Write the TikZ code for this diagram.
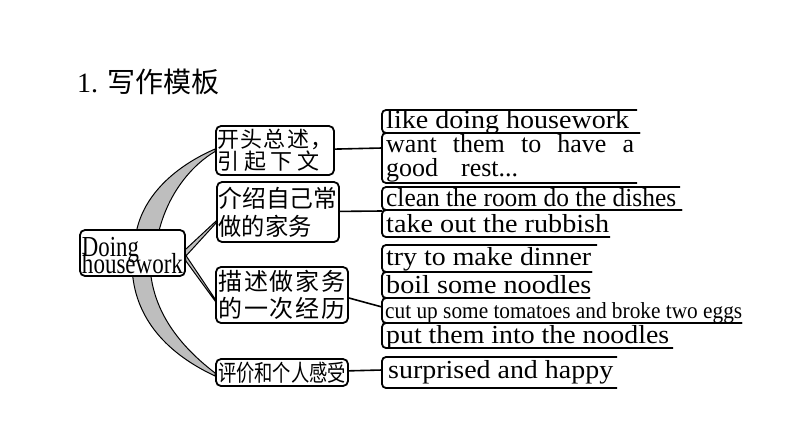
\documentclass[tikz,border=0pt]{standalone}
\usepackage{fontspec}
\setmainfont{Liberation Serif}
\newfontfamily\cjk{Noto Sans CJK SC}
\usetikzlibrary{calc}
\pgfdeclarelayer{background}
\pgfsetlayers{background,main}
\definecolor{crescentgray}{RGB}{190,190,190}
\newcommand\fitw[2]{\resizebox{#1}{\height}{#2}}
\newcommand\spreadbox[2]{\makebox[#1][s]{#2}}
\begin{document}
\begin{tikzpicture}[x=1pt,y=-1pt,
  box/.style={draw, line width=1.8pt, rounded corners=5pt, fill=white, inner sep=1pt, align=left},
  cres/.style={fill=crescentgray, draw=black, line width=1pt},
  brk/.style={draw, line width=1.8pt, rounded corners=4pt},
  link/.style={draw, line width=1.6pt},
  item/.style={anchor=base west, inner sep=0pt, font=\fontsize{26}{26}\selectfont}]
\useasboundingbox (0,0) rectangle (794,447);

% title
\node[anchor=base west, inner sep=0pt, font=\fontsize{28}{28}\selectfont] (title) at (77,92)
  {1.\hspace{9pt}{\cjk\fontsize{28}{28}\selectfont 写作模板}};

% central node
\node[box, minimum width=105pt, minimum height=46pt,
  font={\fontsize{29}{17}\selectfont\lineskiplimit=-100pt}] (doing) at (132.5,253)
  {\rule{0pt}{25pt}\fitw{57pt}{Doing}\\\fitw{101pt}{housework}};

% second level boxes
\node[box, minimum width=118pt, minimum height=49pt,
  font={\cjk\fontsize{22}{22}\selectfont\lineskiplimit=-100pt}] (b1) at (275,150.5)
  {\spreadbox{115pt}{开\hfil 头\hfil 总\hfil 述\hfil ，}\\\spreadbox{102pt}{引\hfil 起\hfil 下\hfil 文}};
\node[box, minimum width=122pt, minimum height=60pt,
  font={\cjk\fontsize{24}{28}\selectfont\lineskiplimit=-100pt}] (b2) at (278,212)
  {\fitw{119pt}{介绍自己常}\\\fitw{93pt}{做的家务}};
\node[box, minimum width=132pt, minimum height=56pt,
  font={\cjk\fontsize{24}{27}\selectfont\lineskiplimit=-100pt}] (b3) at (282,295)
  {\spreadbox{127pt}{描\hfil 述\hfil 做\hfil 家\hfil 务}\\\spreadbox{127pt}{的\hfil 一\hfil 次\hfil 经\hfil 历}};
\node[box, minimum width=132pt, minimum height=27pt,
  font={\cjk\fontsize{23}{23}\selectfont}] (b4) at (282,372.5)
  {\fitw{128pt}{评价和个人感受}};

% crescent and wedge connectors
\begin{pgfonlayer}{background}
\filldraw[cres] ($(b1.west)+(0,-1.5)$) .. controls (178,165) and (140,195) .. (135,240)
  -- (157,240) .. controls (166,192) and (195,163) .. ($(b1.west)+(0,1)$) -- cycle;
\filldraw[cres] (132,265) .. controls (133,320) and (170,355) .. ($(b4.west)+(0,3.5)$)
  -- ($(b4.west)+(0,0.5)$) .. controls (185,350) and (152,315) .. (150,265) -- cycle;
\filldraw[cres] ($(doing.east)+(-1,-3)$) -- ($(b2.west)+(0,9)$) -- ($(b2.west)+(0,11)$)
  -- ($(doing.east)+(0,3)$) -- cycle;
\filldraw[cres] ($(doing.east)+(-1,1)$) -- ($(b3.west)+(0,4)$) -- ($(b3.west)+(0,6)$)
  -- ($(doing.east)+(0,8)$) -- cycle;
\end{pgfonlayer}

% spine points of the brackets
\coordinate (s1) at (382,148);
\coordinate (s2) at (382,211);
\coordinate (s3) at (382,307);
\coordinate (s4) at (382,370);
\draw[link] (b1) -- (s1);
\draw[link] (b2) -- (s2);
\draw[link] ($(b3.east)+(0,3)$) -- (s3);
\draw[link] (b4) -- (s4);

% brackets
\draw[brk] (637,110) -- (382,110) -- (382,133) -- (640,133);
\draw[brk] (640,133) -- (382,133) -- (382,183) -- (637,183);
\draw[brk] (680,187) -- (382,187) -- (382,210) -- (682,210);
\draw[brk] (682,210) -- (382,210) -- (382,237) -- (610,237);
\draw[brk] (597,245) -- (382,245) -- (382,272) -- (592,272);
\draw[brk] (592,272) -- (382,272) -- (382,298) -- (590,298);
\draw[brk] (590,298) -- (382,298) -- (382,323) -- (742,323);
\draw[brk] (742,323) -- (382,323) -- (382,348) -- (673,348);
\draw[brk] (617,357) -- (382,357) -- (382,388) -- (617,388);

% texts
\node[item] (t11) at (386,128) {\fitw{243pt}{like doing housework}};
\node[item] (t12) at (386,152) {\spreadbox{248pt}{want them to have a}};
\node[item] (t13) at (386,176) {\spreadbox{132pt}{good rest...}};
\node[item] (t21) at (386,206) {\fitw{290pt}{clean the room do the dishes}};
\node[item] (t22) at (386,232) {\fitw{223pt}{take out the rubbish}};
\node[item] (t31) at (386,265) {\fitw{205pt}{try to make dinner}};
\node[item] (t32) at (386,293) {\fitw{205pt}{boil some noodles}};
\node[item, font=\fontsize{23}{23}\selectfont] (t33) at (385,318) {\fitw{357pt}{cut up some tomatoes and broke two eggs}};
\node[item] (t34) at (386,343) {\fitw{283pt}{put them into the noodles}};
\node[item] (t41) at (388,378) {\fitw{225pt}{surprised and happy}};
\end{tikzpicture}
\end{document}
